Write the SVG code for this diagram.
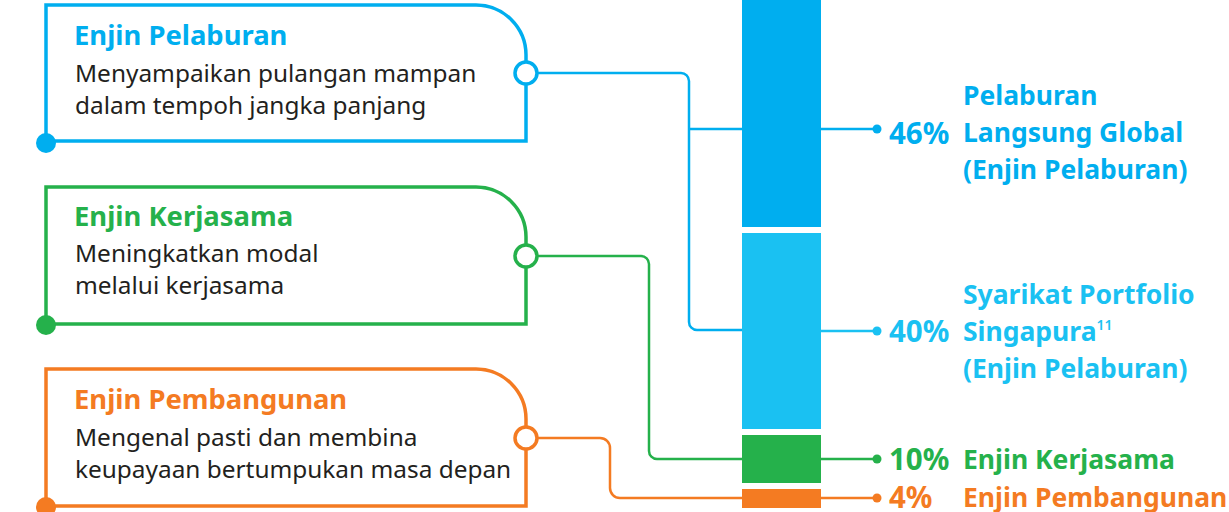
<svg xmlns="http://www.w3.org/2000/svg" width="1229" height="512" viewBox="0 0 1229 512">
<style>
text{font-family:"Noto Sans","Open Sans","Liberation Sans",sans-serif}
.t{font-weight:700;font-size:27.4px}
.b{font-size:24.4px;fill:#231f20}
.box{fill:#fff;stroke-width:3.5}
.port{fill:#fff;stroke-width:3.5}
.ln{fill:none;stroke-width:2.5}
.lb{font-weight:700;font-size:26.5px}
.pc{font-weight:700;font-size:29.5px}
</style>
<rect width="1229" height="512" fill="#fff"/>
<g id="connectors">
<path class="ln" stroke="#00aeef" d="M537 73 H681 a8 8 0 0 1 8 8 V322 a8 8 0 0 0 8 8 H742"/>
<path class="ln" stroke="#00aeef" d="M689 129 H742"/>
<path class="ln" stroke="#00aeef" d="M821 129 H877"/>
<circle cx="877" cy="129" r="4.5" fill="#00aeef"/>
<path class="ln" stroke="#1ac1f2" d="M821 331 H877"/>
<circle cx="877" cy="331" r="4.5" fill="#1ac1f2"/>
<path class="ln" stroke="#25b14b" d="M537 256 H641 a8 8 0 0 1 8 8 V451 a8 8 0 0 0 8 8 H742"/>
<path class="ln" stroke="#25b14b" d="M821 459 H877"/>
<circle cx="877" cy="459" r="4.5" fill="#25b14b"/>
<path class="ln" stroke="#f47b22" d="M537 438 H600 a10 10 0 0 1 10 10 V488 a10 10 0 0 0 10 10 H742"/>
<path class="ln" stroke="#f47b22" d="M821 498 H877"/>
<circle cx="877" cy="498" r="4.5" fill="#f47b22"/>
</g>
<g id="bar">
<rect x="742" y="0" width="79" height="227" fill="#00aeef"/>
<rect x="742" y="233" width="79" height="196" fill="#1ac1f2"/>
<rect x="742" y="435" width="79" height="48" fill="#25b14b"/>
<rect x="742" y="489" width="79" height="19" fill="#f47b22"/>
</g>
<g id="node-pelaburan">
<path class="box" stroke="#00aeef" d="M46 141 V5 H476 A50 50 0 0 1 526 55 V141 Z"/>
<circle class="port" stroke="#00aeef" cx="526" cy="73" r="11"/>
<circle cx="46" cy="143" r="10" fill="#00aeef"/>
<text class="t" x="74" y="45" fill="#00aeef">Enjin Pelaburan</text>
<text class="b" x="75" y="82">Menyampaikan pulangan mampan</text>
<text class="b" x="75" y="114">dalam tempoh jangka panjang</text>
</g>
<g id="node-kerjasama">
<path class="box" stroke="#25b14b" d="M46 324 V187 H476 A50 50 0 0 1 526 237 V324 Z"/>
<circle class="port" stroke="#25b14b" cx="526" cy="256" r="11"/>
<circle cx="46" cy="325" r="10" fill="#25b14b"/>
<text class="t" x="74" y="226" fill="#25b14b">Enjin Kerjasama</text>
<text class="b" x="75" y="262">Meningkatkan modal</text>
<text class="b" x="75" y="294">melalui kerjasama</text>
</g>
<g id="node-pembangunan">
<path class="box" stroke="#f47b22" d="M46 506 V369 H476 A50 50 0 0 1 526 419 V506 Z"/>
<circle class="port" stroke="#f47b22" cx="526" cy="438" r="11"/>
<circle cx="46" cy="507" r="10" fill="#f47b22"/>
<text class="t" x="74" y="409" fill="#f47b22">Enjin Pembangunan</text>
<text class="b" x="75" y="446">Mengenal pasti dan membina</text>
<text class="b" x="75" y="478">keupayaan bertumpukan masa depan</text>
</g>
<g id="label-46">
<text class="pc" x="889" y="144" fill="#00aeef">46%</text>
<text class="lb" x="963" y="105" fill="#00aeef">Pelaburan</text>
<text class="lb" x="963" y="142" fill="#00aeef">Langsung Global</text>
<text class="lb" x="963" y="179" fill="#00aeef">(Enjin Pelaburan)</text>
</g>
<g id="label-40">
<text class="pc" x="889" y="342" fill="#1ac1f2">40%</text>
<text class="lb" x="963" y="304" fill="#1ac1f2">Syarikat Portfolio</text>
<text class="lb" x="963" y="341" fill="#1ac1f2">Singapura<tspan font-size="14" font-weight="600" dy="-11">11</tspan></text>
<text class="lb" x="963" y="378" fill="#1ac1f2">(Enjin Pelaburan)</text>
</g>
<g id="label-10">
<text class="pc" x="889" y="470" fill="#25b14b">10%</text>
<text class="lb" x="963" y="469" fill="#25b14b">Enjin Kerjasama</text>
</g>
<g id="label-4">
<text class="pc" x="889" y="508" fill="#f47b22">4%</text>
<text class="lb" x="963" y="507" fill="#f47b22">Enjin Pembangunan</text>
</g>
</svg>
